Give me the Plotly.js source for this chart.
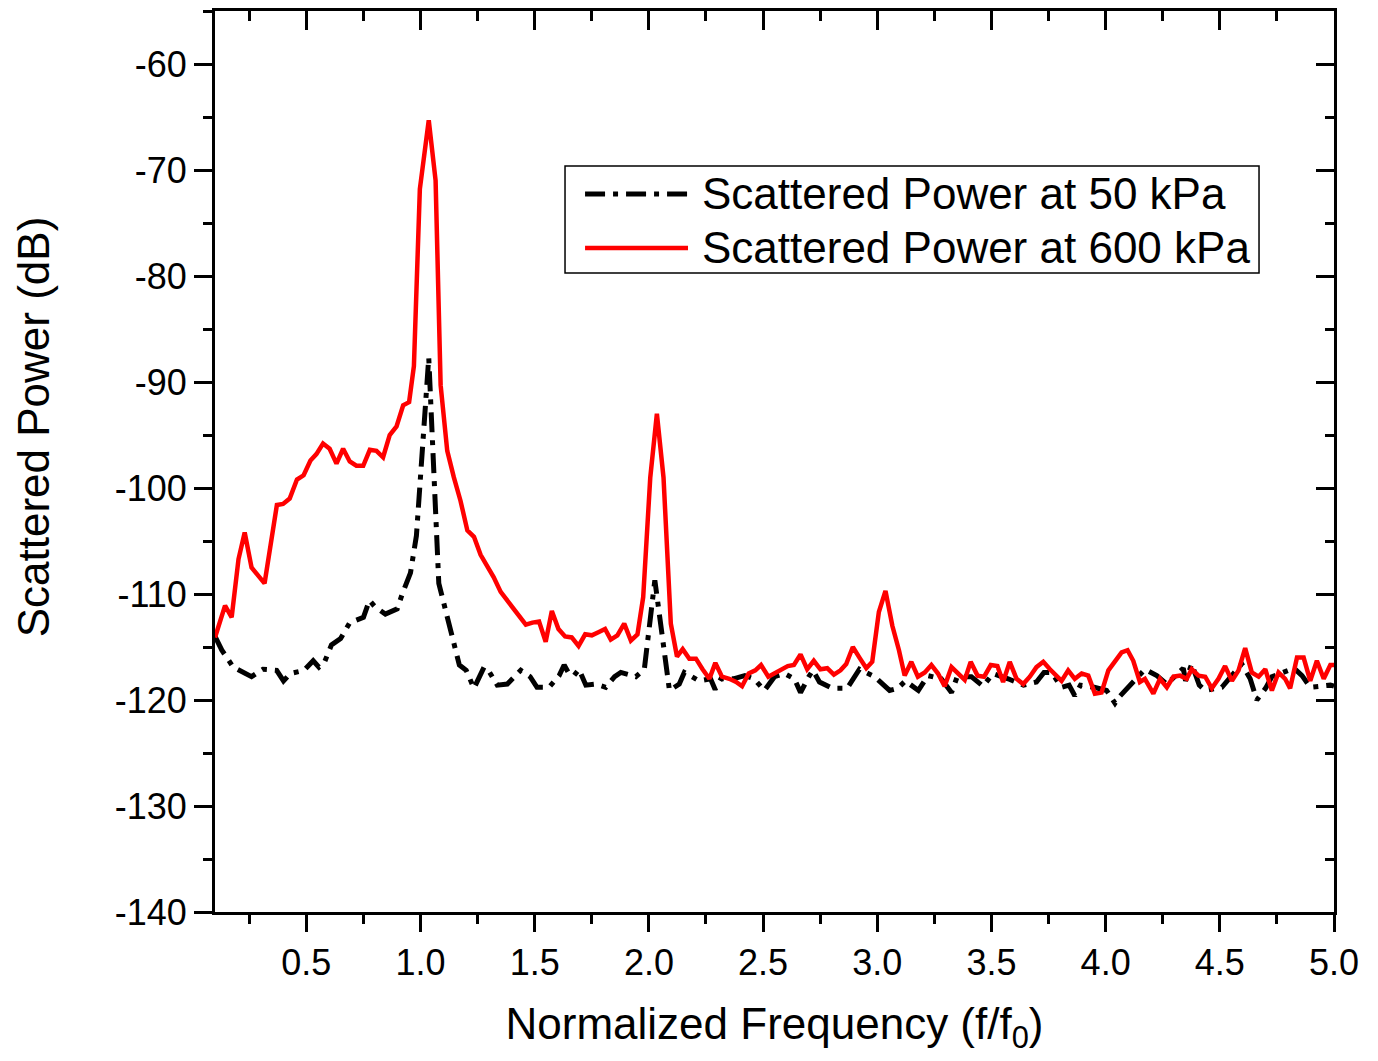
<!DOCTYPE html>
<html>
<head>
<meta charset="utf-8">
<script src="https://cdn.plot.ly/plotly-3.0.1.min.js"></script>
<style>html,body{margin:0;padding:0;background:#fff;}#chart{width:1378px;height:1061px;}</style>
</head>
<body>
<div id="chart"></div>
<script>
// ---- data ----
const seriesNames = ['Scattered Power at 50 kPa', 'Scattered Power at 600 kPa'];

const lowX = [0.10,0.13,0.18,0.22,0.26,0.31,0.37,0.40,0.43,0.49,0.53,0.555,0.58,0.61,0.65,0.69,0.75,0.776,0.80,0.846,0.898,0.92,0.956,0.982,1.036,1.08,1.17,1.20,1.234,1.278,1.30,1.336,1.38,1.439,1.48,1.51,1.563,1.607,1.629,1.65,1.672,1.694,1.724,1.768,1.811,1.85,1.877,1.943,1.98,2.026,2.09,2.133,2.155,2.22,2.27,2.29,2.316,2.37,2.42,2.46,2.506,2.55,2.594,2.637,2.664,2.70,2.718,2.747,2.803,2.868,2.922,2.988,3.054,3.09,3.123,3.18,3.222,3.28,3.325,3.35,3.412,3.463,3.507,3.573,3.64,3.697,3.73,3.763,3.807,3.84,3.865,3.89,3.95,4.004,4.041,4.06,4.107,4.172,4.224,4.268,4.34,4.35,4.377,4.41,4.436,4.509,4.596,4.633,4.662,4.70,4.728,4.801,4.82,4.86,4.896,4.984,5.0];
const lowY = [-114.0,-115.3,-116.9,-117.3,-117.8,-117.1,-117.2,-118.2,-117.5,-117.2,-116.3,-116.9,-116.4,-114.8,-114.2,-112.7,-112.2,-110.6,-111.2,-111.9,-111.4,-110.0,-108.0,-104.5,-87.7,-109.0,-116.7,-117.2,-118.9,-116.9,-117.3,-118.6,-118.5,-117.2,-117.8,-118.8,-118.8,-117.7,-116.7,-117.5,-117.7,-117.1,-118.6,-118.5,-118.8,-117.8,-117.4,-117.8,-117.1,-108.7,-119.1,-118.5,-117.4,-118.2,-118.0,-119.0,-118.0,-118.0,-117.7,-118.0,-119.1,-117.8,-117.5,-118.0,-119.3,-117.8,-117.2,-118.3,-118.9,-118.9,-117.1,-117.8,-119.1,-118.9,-118.2,-119.1,-117.7,-118.0,-119.3,-117.8,-117.8,-118.7,-117.5,-118.0,-118.6,-118.3,-117.4,-117.4,-118.8,-118.6,-119.6,-118.6,-118.8,-119.1,-120.3,-119.7,-118.6,-117.1,-117.7,-118.5,-117.0,-118.2,-116.6,-118.6,-119.1,-118.8,-116.6,-118.0,-120.0,-118.9,-117.8,-117.2,-116.9,-117.7,-118.8,-118.6,-118.7];

const highX = [0.10,0.144,0.173,0.203,0.23,0.26,0.317,0.371,0.398,0.427,0.459,0.488,0.518,0.544,0.573,0.602,0.632,0.661,0.69,0.719,0.749,0.778,0.807,0.836,0.865,0.895,0.924,0.95,0.971,0.997,1.036,1.066,1.088,1.117,1.146,1.175,1.205,1.234,1.263,1.292,1.32,1.351,1.38,1.409,1.439,1.461,1.49,1.519,1.548,1.575,1.604,1.633,1.662,1.692,1.721,1.75,1.779,1.808,1.833,1.862,1.892,1.921,1.95,1.975,2.006,2.035,2.064,2.096,2.123,2.148,2.177,2.206,2.235,2.265,2.291,2.32,2.352,2.382,2.408,2.437,2.466,2.491,2.523,2.557,2.586,2.608,2.635,2.664,2.693,2.722,2.751,2.781,2.81,2.839,2.864,2.893,2.922,2.952,2.978,3.007,3.036,3.066,3.095,3.12,3.149,3.178,3.208,3.237,3.266,3.295,3.325,3.354,3.383,3.409,3.439,3.468,3.497,3.526,3.551,3.58,3.61,3.639,3.668,3.697,3.727,3.756,3.807,3.836,3.865,3.895,3.924,3.953,3.982,4.012,4.041,4.07,4.096,4.121,4.15,4.172,4.209,4.238,4.268,4.297,4.326,4.355,4.377,4.407,4.436,4.465,4.494,4.523,4.553,4.582,4.611,4.64,4.67,4.699,4.728,4.757,4.786,4.808,4.838,4.867,4.896,4.925,4.955,4.984,5.0];
const highY = [-114.1,-111.1,-112.2,-106.7,-104.2,-107.5,-109.0,-101.6,-101.5,-101.0,-99.2,-98.8,-97.4,-96.8,-95.8,-96.3,-97.7,-96.3,-97.5,-97.9,-97.9,-96.4,-96.5,-97.1,-95.0,-94.2,-92.2,-91.9,-88.5,-71.8,-65.3,-71.0,-90.3,-96.5,-99.0,-101.2,-104.0,-104.6,-106.3,-107.3,-108.4,-109.8,-110.6,-111.4,-112.2,-112.9,-112.7,-112.6,-114.5,-111.6,-113.3,-114.0,-114.1,-114.9,-113.8,-113.9,-113.6,-113.3,-114.3,-113.9,-112.8,-114.4,-113.8,-110.3,-99.0,-93.0,-99.0,-112.8,-115.9,-115.2,-116.1,-116.1,-117.1,-118.0,-116.5,-117.8,-118.0,-118.3,-118.7,-117.5,-117.2,-116.7,-117.8,-117.4,-117.0,-116.8,-116.7,-115.7,-117.1,-116.3,-117.1,-117.0,-117.6,-117.2,-116.6,-115.0,-116.0,-117.0,-116.4,-111.7,-109.7,-113.0,-115.3,-117.7,-116.4,-117.8,-117.4,-116.7,-117.5,-118.7,-116.9,-117.5,-118.1,-116.4,-117.7,-117.8,-116.7,-116.8,-118.3,-116.4,-118.0,-118.5,-117.8,-116.9,-116.4,-117.1,-118.2,-117.2,-118.0,-117.5,-117.7,-119.4,-119.3,-117.2,-116.4,-115.5,-115.3,-116.3,-118.3,-118.0,-119.4,-118.0,-118.8,-117.8,-117.7,-118.0,-117.1,-117.7,-117.8,-118.9,-118.0,-116.8,-118.2,-117.2,-115.1,-117.4,-117.8,-117.1,-119.1,-117.4,-118.0,-118.9,-116.0,-116.0,-118.2,-116.3,-118.0,-116.7,-116.7];

const xTickVals = [0.5,1.0,1.5,2.0,2.5,3.0,3.5,4.0,4.5,5.0];
const xTickText = ['0.5','1.0','1.5','2.0','2.5','3.0','3.5','4.0','4.5','5.0'];
const yTickVals = [-140,-130,-120,-110,-100,-90,-80,-70,-60];
const yTickText = ['-140','-130','-120','-110','-100','-90','-80','-70','-60'];

const xTitle = 'Normalized Frequency (f/f<sub>0</sub>)';
const yTitle = 'Scattered Power (dB)';

// ---- styles ----
const FONT = 'Liberation Sans, Arial, sans-serif';
const xRange = [0.1, 5.0];
const yRange = [-140, -55];
const lowColor = '#000000', highColor = '#ff0000';
const lowDash = '20px,8px,5px,8px';

const traces = [
  {x: lowX, y: lowY, name: seriesNames[0], type: 'scatter', mode: 'lines',
   line: {color: lowColor, width: 5, dash: lowDash}},
  {x: highX, y: highY, name: seriesNames[1], type: 'scatter', mode: 'lines',
   line: {color: highColor, width: 4.5}},
  {x: [], y: [], xaxis: 'x2', yaxis: 'y2', showlegend: false, hoverinfo: 'skip', type: 'scatter', mode: 'lines'}
];

const axisCommon = {
  showgrid: false, zeroline: false, showline: true, linecolor: '#000', linewidth: 3,
  tickcolor: '#000', tickwidth: 3
};

// legend box drawn in plot-area (paper) fractions
const legBox = {x0: 0.3128, x1: 0.9330, y0: 0.7092, y1: 0.8280};
const legRows = [0.7969, 0.7370];
const legLine = {x0: 0.3307, x1: 0.4227};
const legTextX = 0.4334;

const shapes = [
  {type: 'rect', xref: 'paper', yref: 'paper', x0: legBox.x0, x1: legBox.x1, y0: legBox.y0, y1: legBox.y1,
   line: {color: '#000', width: 1.5}, fillcolor: 'rgba(255,255,255,1)', layer: 'above'},
  {type: 'line', xref: 'paper', yref: 'paper', x0: legLine.x0, x1: legLine.x1, y0: legRows[0], y1: legRows[0],
   line: {color: lowColor, width: 5, dash: lowDash}, layer: 'above'},
  {type: 'line', xref: 'paper', yref: 'paper', x0: legLine.x0, x1: legLine.x1, y0: legRows[1], y1: legRows[1],
   line: {color: highColor, width: 4.5}, layer: 'above'}
];

const annotations = seriesNames.map((nm, i) => ({
  xref: 'paper', yref: 'paper', x: legTextX, y: legRows[i], xanchor: 'left', yanchor: 'middle',
  text: nm, showarrow: false, font: {family: FONT, size: 44, color: '#000'}
}));
// y-axis title (placed slightly above the axis centre, as in the reference)
annotations.push({
  xref: 'paper', yref: 'paper', x: -0.1626, y: 0.538, xanchor: 'center', yanchor: 'middle',
  text: yTitle, textangle: -90, showarrow: false, font: {family: FONT, size: 44, color: '#000'}
});

const layout = {
  width: 1378, height: 1061,
  margin: {l: 215, r: 44, t: 11, b: 149, pad: 0},
  paper_bgcolor: '#fff', plot_bgcolor: '#fff',
  font: {family: FONT, color: '#000'},
  showlegend: false,
  shapes: shapes,
  annotations: annotations,
  xaxis: Object.assign({}, axisCommon, {
    range: xRange, ticks: 'outside', ticklen: 17,
    tickvals: xTickVals, ticktext: xTickText,
    tickfont: {family: FONT, size: 36, color: '#000'},
    minor: {dtick: 0.25, tick0: 0, ticks: 'outside', ticklen: 9, tickwidth: 3, tickcolor: '#000'},
    title: {text: xTitle, font: {family: FONT, size: 44, color: '#000'}, standoff: 26}
  }),
  yaxis: Object.assign({}, axisCommon, {
    range: yRange, ticks: 'outside', ticklen: 18,
    tickvals: yTickVals, ticktext: yTickText,
    tickfont: {family: FONT, size: 36, color: '#000'},
    minor: {dtick: 5, tick0: 0, ticks: 'outside', ticklen: 9, tickwidth: 3, tickcolor: '#000'}
  }),
  xaxis2: Object.assign({}, axisCommon, {
    overlaying: 'x', side: 'top', anchor: 'y2', range: xRange,
    ticks: 'inside', ticklen: 19, tickvals: xTickVals, showticklabels: false,
    minor: {dtick: 0.25, tick0: 0, ticks: 'inside', ticklen: 10, tickwidth: 3, tickcolor: '#000'}
  }),
  yaxis2: Object.assign({}, axisCommon, {
    overlaying: 'y', side: 'right', anchor: 'x2', range: yRange,
    ticks: 'inside', ticklen: 18, tickvals: yTickVals, showticklabels: false,
    minor: {dtick: 5, tick0: 0, ticks: 'inside', ticklen: 9, tickwidth: 3, tickcolor: '#000'}
  })
};

Plotly.newPlot('chart', traces, layout, {staticPlot: true, displayModeBar: false});
</script>
</body>
</html>
